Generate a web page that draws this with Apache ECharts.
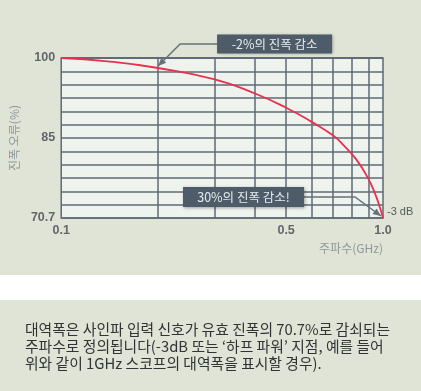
<!DOCTYPE html>
<html><head><meta charset="utf-8">
<script src="https://cdn.jsdelivr.net/npm/echarts@6/dist/echarts.min.js"></script>
<style>html,body{margin:0;padding:0;background:#fff}#c{width:421px;height:391px}</style>
</head><body><div id="c"></div>
<script>
// ---- data ----
const freqGHz      = [0.1, 0.139, 0.2, 0.3, 0.4, 0.5, 0.6, 0.7, 0.755, 0.829, 0.9, 0.944, 0.977, 1.0];
const amplitudePct = [100, 99.4, 98.17, 96.1, 93.5, 90.9, 88.3, 85.8, 84.0, 81.3, 77.9, 75.2, 72.7, 70.7];
const xGridLines   = [0.2, 0.3, 0.4, 0.5, 0.6, 0.7, 0.8, 0.9];
const xTickValues  = [0.1, 0.5, 1.0];
const xTickLabels  = ['0.1', '0.5', '1.0'];
const yTickValues  = [70.7, 85.35, 100];
const yTickLabels  = ['70.7', '85', '100'];
const yMin = 70.7, yMax = 100, yDivisions = 12;
const annotationTexts  = ['-2%의 진폭 감소', '30%의 진폭 감소!'];
const annotationPoints = [[0.2, 98.17], [1.0, 70.7]];
const endLabel = '-3 dB';
const xName = '주파수(GHz)';
const yName = '진폭 오류(%)';
const caption = [
  '대역폭은 사인파 입력 신호가 유효 진폭의 70.7%로 감쇠되는',
  '주파수로 정의됩니다(-3dB 또는 ‘하프 파워’ 지점, 예를 들어',
  '위와 같이 1GHz 스코프의 대역폭을 표시할 경우).'
];

const KR = '"Noto Sans CJK KR", sans-serif';
const NUM = '"Liberation Sans", Arial, sans-serif';
const gridColor = '#5e6a74';

function pick(v, values, labels, tol) {
  for (let i = 0; i < values.length; i++) {
    if (Math.abs(v - values[i]) <= tol * Math.max(1, Math.abs(values[i]))) return labels[i];
  }
  return '';
}

const option = {
  backgroundColor: '#dfe4d6',
  animation: false,
  grid: { left: 59, right: 38, top: 58, bottom: 173, show: true,
          backgroundColor: '#eff3ee', borderColor: gridColor, borderWidth: 1.5 },
  xAxis: {
    type: 'log', logBase: 10, min: 0.1, max: 1,
    axisLine: { show: false }, axisTick: { show: false },
    splitLine: { show: false },
    axisLabel: { margin: 6, color: '#62676a', fontWeight: 'bold', fontSize: 12.5, fontFamily: NUM,
      formatter: v => pick(v, xTickValues, xTickLabels, 0.01) },
    name: xName, nameLocation: 'end', nameGap: 0,
    nameTextStyle: { color: '#8f999c', fontSize: 12, fontFamily: KR, align: 'right',
      verticalAlign: 'top', padding: [24, 0, 0, 0] }
  },
  yAxis: {
    type: 'value', min: yMin, max: yMax, interval: (yMax - yMin) / yDivisions,
    axisLine: { show: false }, axisTick: { show: false },
    splitLine: { show: true, lineStyle: { color: gridColor, width: 1.5 } },
    axisLabel: { margin: 6, color: '#62676a', fontWeight: 'bold', fontSize: 12.5, fontFamily: NUM,
      formatter: v => pick(v, yTickValues, yTickLabels, 0.0005) },
    name: yName, nameLocation: 'middle', nameGap: 40,
    nameTextStyle: { color: '#8f999c', fontSize: 12, fontFamily: KR }
  },
  series: [
    {
      type: 'line', data: [], z: 1, silent: true,
      markLine: {
        silent: true, symbol: 'none', animation: false,
        lineStyle: { color: gridColor, width: 1.5, type: 'solid' },
        label: { show: true, position: 'start', distance: 6, color: '#62676a', fontWeight: 'bold',
          fontSize: 12.5, fontFamily: NUM,
          formatter: p => pick(p.value, xTickValues, xTickLabels, 0.01) },
        data: xGridLines.map(v => ({ xAxis: v }))
      }
    },
    {
      type: 'line', z: 5, smooth: 0.5, symbol: 'none',
      lineStyle: { color: '#e8304f', width: 1.8 },
      data: freqGHz.map((f, i) => [f, amplitudePct[i]]),
      markPoint: {
        symbol: 'circle', symbolSize: 0, silent: true,
        label: { show: true, position: 'right', distance: 4, offset: [0, -6], color: '#555a5d',
          fontSize: 11, fontFamily: NUM, formatter: endLabel },
        data: [{ coord: [freqGHz[freqGHz.length - 1], amplitudePct[amplitudePct.length - 1]] }]
      }
    }
  ]
};

const chart = echarts.init(document.getElementById('c'), null, { renderer: 'canvas' });
chart.setOption(option);

function arrowHead(tip, from, len, hw, color) {
  const dx = tip[0] - from[0], dy = tip[1] - from[1];
  const d = Math.hypot(dx, dy), ux = dx / d, uy = dy / d;
  const bx = tip[0] - ux * len, by = tip[1] - uy * len;
  return { type: 'polygon', z: 100, shape: { points: [tip, [bx - uy * hw, by + ux * hw], [bx + uy * hw, by - ux * hw]] },
    style: { fill: color } };
}

const p1 = chart.convertToPixel({ seriesIndex: 1 }, annotationPoints[0]);
const p2 = chart.convertToPixel({ seriesIndex: 1 }, annotationPoints[1]);
const lineCol = '#66727b', boxCol = '#4e5b69';
const t1 = [p1[0], p1[1] - 2], b1 = [t1[0] + 22, t1[1] - 22];
const box1 = { x: t1[0] + 59, y: b1[1] - 9.5, w: 115, h: 19 };
const t2 = [p2[0] - 2, p2[1] - 2], b2 = [t2[0] - 26, t2[1] - 19];
const box2 = { x: t2[0] - 198, y: b2[1] - 10, w: 121, h: 20 };

function boxEl(b, text) {
  return { type: 'group', z: 100, children: [
    { type: 'rect', z: 100, shape: { x: b.x, y: b.y, width: b.w, height: b.h },
      style: { fill: boxCol, shadowBlur: 3, shadowOffsetX: 1, shadowOffsetY: 1, shadowColor: 'rgba(0,0,0,0.35)' } },
    { type: 'text', z: 101, x: b.x + b.w / 2, y: b.y + b.h / 2,
      style: { text: text, fill: '#e6ecef', font: '12.5px ' + KR, align: 'center', verticalAlign: 'middle' } }
  ]};
}

chart.setOption({
  graphic: [
    { type: 'rect', z: -10, shape: { x: 0, y: 275, width: 421, height: 25 }, style: { fill: '#ffffff' } },
    { type: 'polyline', z: 99, shape: { points: [[box1.x, b1[1]], b1, t1] }, style: { stroke: lineCol, lineWidth: 1.5, fill: null } },
    arrowHead(t1, b1, 8, 3.5, lineCol),
    boxEl(box1, annotationTexts[0]),
    { type: 'polyline', z: 99, shape: { points: [[box2.x + box2.w, b2[1]], b2, t2] }, style: { stroke: lineCol, lineWidth: 1.5, fill: null } },
    arrowHead(t2, b2, 8, 3.5, lineCol),
    boxEl(box2, annotationTexts[1]),
    { type: 'text', z: 50, x: 25, y: 320.5,
      style: { text: caption.join('\n'), fill: '#303436', font: '14.8px ' + KR, lineHeight: 17 } }
  ]
});
</script>
</body></html>
